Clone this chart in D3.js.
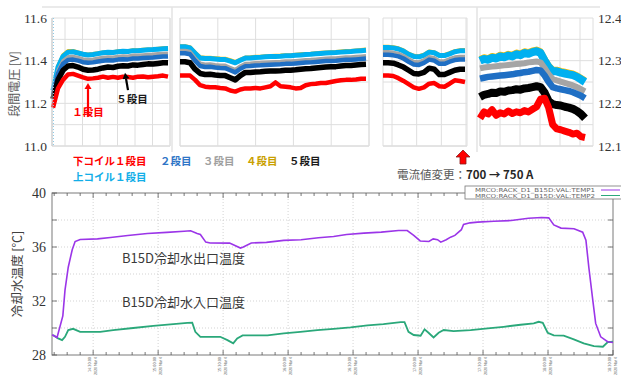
<!DOCTYPE html>
<html>
<head>
<meta charset="utf-8">
<script src="https://cdn.jsdelivr.net/npm/d3@7"></script>
<style>
  html, body { margin: 0; padding: 0; background: #fff; }
  svg { display: block; }
</style>
</head>
<body>
<svg id="chart" width="621" height="377"></svg>
<script>
// ===== Stage voltages (four recording segments, sampled at even intervals) =====
const voltTicksLeft  = [11.0, 11.2, 11.4, 11.6];
const voltTicksRight = [12.1, 12.2, 12.3, 12.4];

// lower coil stage 1
const lowerStage1 = [
  [11.18, 11.27, 11.31, 11.335, 11.338, 11.33, 11.322, 11.315, 11.317, 11.32, 11.325, 11.32, 11.324, 11.32, 11.325, 11.323, 11.32, 11.325, 11.326, 11.322, 11.325, 11.327, 11.33, 11.325],
  [11.33, 11.33, 11.33, 11.31, 11.285, 11.278, 11.275, 11.275, 11.272, 11.27, 11.26, 11.255, 11.265, 11.27, 11.27, 11.272, 11.27, 11.275, 11.28, 11.298, 11.28, 11.278, 11.275, 11.27, 11.272, 11.285, 11.29, 11.292, 11.295, 11.295, 11.3, 11.305, 11.308, 11.31, 11.31, 11.312, 11.315, 11.315],
  [11.33, 11.33, 11.328, 11.318, 11.305, 11.29, 11.275, 11.268, 11.275, 11.292, 11.295, 11.28, 11.278, 11.292, 11.308, 11.305, 11.3],
  [12.165, 12.18, 12.175, 12.185, 12.172, 12.178, 12.175, 12.182, 12.176, 12.18, 12.178, 12.183, 12.18, 12.186, 12.192, 12.21, 12.212, 12.19, 12.15, 12.14, 12.138, 12.135, 12.132, 12.128, 12.13, 12.122, 12.12]
];
// stage 2
const stage2 = [
  [11.24, 11.34, 11.385, 11.403, 11.405, 11.4, 11.393, 11.39, 11.392, 11.396, 11.4, 11.402, 11.401, 11.405, 11.407, 11.406, 11.41, 11.41, 11.412, 11.414, 11.415, 11.417, 11.419, 11.42],
  [11.435, 11.435, 11.43, 11.4, 11.375, 11.37, 11.371, 11.368, 11.366, 11.365, 11.355, 11.345, 11.362, 11.374, 11.375, 11.377, 11.378, 11.38, 11.381, 11.382, 11.383, 11.385, 11.385, 11.387, 11.389, 11.391, 11.392, 11.394, 11.396, 11.398, 11.399, 11.4, 11.402, 11.404, 11.404, 11.406, 11.408, 11.41],
  [11.428, 11.428, 11.425, 11.42, 11.41, 11.395, 11.382, 11.38, 11.39, 11.405, 11.4, 11.385, 11.385, 11.395, 11.403, 11.405, 11.405],
  [12.258, 12.26, 12.262, 12.263, 12.264, 12.265, 12.266, 12.267, 12.268, 12.27, 12.271, 12.273, 12.274, 12.276, 12.278, 12.277, 12.265, 12.25, 12.238, 12.235, 12.233, 12.231, 12.229, 12.226, 12.222, 12.218, 12.212]
];
// stage 3
const stage3 = [
  [11.25, 11.355, 11.4, 11.418, 11.42, 11.415, 11.408, 11.405, 11.407, 11.411, 11.415, 11.417, 11.416, 11.42, 11.422, 11.421, 11.425, 11.425, 11.427, 11.429, 11.43, 11.432, 11.434, 11.435],
  [11.448, 11.448, 11.443, 11.413, 11.388, 11.383, 11.384, 11.381, 11.379, 11.378, 11.368, 11.358, 11.375, 11.387, 11.388, 11.39, 11.391, 11.393, 11.394, 11.395, 11.396, 11.398, 11.398, 11.4, 11.402, 11.404, 11.405, 11.407, 11.409, 11.411, 11.412, 11.413, 11.415, 11.417, 11.417, 11.419, 11.421, 11.423],
  [11.442, 11.442, 11.439, 11.434, 11.424, 11.409, 11.396, 11.394, 11.404, 11.419, 11.414, 11.399, 11.399, 11.409, 11.417, 11.419, 11.419],
  [12.282, 12.284, 12.285, 12.286, 12.287, 12.288, 12.289, 12.29, 12.291, 12.292, 12.293, 12.294, 12.296, 12.297, 12.298, 12.296, 12.283, 12.268, 12.257, 12.254, 12.251, 12.248, 12.245, 12.242, 12.238, 12.233, 12.228]
];
// stage 4
const stage4 = [
  [11.262, 11.375, 11.427, 11.446, 11.447, 11.44, 11.433, 11.43, 11.432, 11.436, 11.44, 11.442, 11.441, 11.445, 11.447, 11.446, 11.45, 11.45, 11.452, 11.454, 11.455, 11.457, 11.459, 11.461],
  [11.469, 11.469, 11.464, 11.44, 11.417, 11.415, 11.415, 11.413, 11.411, 11.41, 11.403, 11.395, 11.406, 11.416, 11.417, 11.419, 11.42, 11.422, 11.423, 11.424, 11.425, 11.427, 11.427, 11.429, 11.431, 11.433, 11.434, 11.436, 11.438, 11.44, 11.441, 11.442, 11.444, 11.446, 11.447, 11.449, 11.451, 11.453],
  [11.466, 11.466, 11.464, 11.459, 11.449, 11.434, 11.424, 11.422, 11.429, 11.444, 11.441, 11.428, 11.428, 11.436, 11.446, 11.45, 11.451],
  [12.304, 12.308, 12.306, 12.311, 12.309, 12.314, 12.312, 12.316, 12.314, 12.319, 12.317, 12.322, 12.32, 12.324, 12.326, 12.322, 12.304, 12.289, 12.279, 12.279, 12.276, 12.274, 12.272, 12.27, 12.266, 12.26, 12.254]
];
// stage 5
const stage5 = [
  [11.22, 11.31, 11.355, 11.375, 11.377, 11.37, 11.36, 11.355, 11.356, 11.36, 11.366, 11.37, 11.368, 11.374, 11.376, 11.375, 11.38, 11.379, 11.382, 11.385, 11.384, 11.387, 11.39, 11.39],
  [11.395, 11.395, 11.39, 11.36, 11.34, 11.335, 11.336, 11.333, 11.331, 11.33, 11.32, 11.31, 11.33, 11.345, 11.345, 11.347, 11.348, 11.35, 11.351, 11.352, 11.353, 11.355, 11.355, 11.357, 11.36, 11.362, 11.363, 11.366, 11.368, 11.37, 11.371, 11.372, 11.375, 11.377, 11.377, 11.38, 11.382, 11.383],
  [11.39, 11.39, 11.388, 11.38, 11.37, 11.355, 11.34, 11.338, 11.345, 11.365, 11.36, 11.335, 11.335, 11.345, 11.355, 11.36, 11.36],
  [12.215, 12.22, 12.222, 12.225, 12.224, 12.228, 12.227, 12.23, 12.231, 12.233, 12.232, 12.235, 12.236, 12.238, 12.24, 12.238, 12.225, 12.205, 12.198, 12.196, 12.195, 12.192, 12.19, 12.187, 12.182, 12.175, 12.165]
];
// upper coil stage 1
const upperStage1 = [
  [11.26, 11.37, 11.42, 11.44, 11.442, 11.436, 11.43, 11.427, 11.429, 11.433, 11.437, 11.439, 11.438, 11.442, 11.444, 11.443, 11.447, 11.447, 11.449, 11.451, 11.452, 11.454, 11.456, 11.457],
  [11.465, 11.465, 11.46, 11.435, 11.412, 11.41, 11.41, 11.408, 11.406, 11.405, 11.398, 11.39, 11.402, 11.412, 11.413, 11.415, 11.416, 11.418, 11.419, 11.42, 11.421, 11.423, 11.423, 11.425, 11.427, 11.429, 11.43, 11.432, 11.434, 11.436, 11.437, 11.438, 11.44, 11.442, 11.443, 11.445, 11.447, 11.449],
  [11.462, 11.462, 11.46, 11.455, 11.445, 11.43, 11.42, 11.418, 11.425, 11.44, 11.437, 11.424, 11.424, 11.432, 11.442, 11.446, 11.447],
  [12.3, 12.304, 12.302, 12.307, 12.305, 12.31, 12.308, 12.312, 12.31, 12.315, 12.313, 12.318, 12.316, 12.32, 12.322, 12.318, 12.3, 12.285, 12.275, 12.275, 12.272, 12.27, 12.268, 12.266, 12.262, 12.256, 12.25]
];

// ===== Cooling water temperatures =====
const tempTicks = [28, 32, 36, 40];
const tickDate = "2020 Mar 4";
const outletTimes = ["14:11:00","14:13:20","14:16:00","14:17:00","14:18:30","14:20:20","14:21:40","14:24:00","14:32:00","14:38:00","14:46:00","14:55:00","15:04:00","15:12:00","15:15:00","15:18:00","15:19:30","15:22:00","15:24:00","15:33:00","15:38:00","15:39:20","15:43:00","15:50:00","15:58:00","16:06:00","16:14:00","16:21:00","16:27:00","16:35:00","16:43:00","16:51:00","16:55:00","16:58:00","17:01:00","17:05:00","17:07:00","17:09:00","17:10:30","17:13:00","17:15:00","17:17:00","17:20:00","17:21:00","17:24:00","17:27:30","17:35:00","17:43:00","17:51:00","17:57:00","18:00:20","18:02:40","18:06:00","18:12:00","18:16:00","18:17:30","18:18:50","18:20:40","18:22:00","18:24:20","18:27:30","18:30:00"];
const outletTemp = [29.5, 29.3, 30.9, 32.8, 34.5, 35.8, 36.4, 36.55, 36.6, 36.7, 36.85, 37.0, 37.08, 37.17, 37.2, 37.0, 36.93, 36.36, 36.3, 36.29, 35.92, 36.0, 36.3, 36.34, 36.49, 36.54, 36.69, 36.78, 36.93, 37.03, 37.1, 37.22, 37.22, 36.86, 36.45, 36.41, 36.6, 36.54, 36.36, 36.54, 36.73, 36.86, 37.28, 37.67, 37.79, 37.84, 37.91, 37.96, 38.13, 38.18, 38.16, 37.64, 37.4, 37.35, 37.1, 36.5, 34.5, 32.06, 30.34, 29.35, 28.98, 28.93];
const inletTimes = ["14:11:30","14:13:50","14:15:40","14:17:00","14:18:30","14:20:45","14:24:00","14:33:15","14:39:15","14:48:30","14:57:45","15:07:00","15:13:30","15:15:45","15:17:10","15:19:30","15:28:40","15:32:00","15:34:40","15:36:30","15:39:00","15:50:30","15:58:00","16:05:40","16:13:30","16:21:00","16:28:50","16:36:40","16:44:00","16:52:00","16:53:45","16:55:35","16:58:00","17:01:10","17:03:00","17:04:50","17:07:10","17:09:30","17:11:50","17:16:25","17:24:15","17:32:10","17:39:30","17:47:20","17:53:25","17:55:40","17:57:35","17:59:50","18:02:40","18:07:15","18:11:55","18:16:30","18:21:10","18:25:20","18:27:35","18:30:00"];
const inletTemp = [29.48, 29.23, 29.1, 29.35, 29.85, 29.94, 29.72, 29.72, 29.85, 30.0, 30.16, 30.29, 30.38, 30.4, 29.72, 29.35, 29.35, 29.1, 28.86, 29.23, 29.45, 29.45, 29.6, 29.72, 29.85, 29.94, 30.04, 30.19, 30.29, 30.44, 30.44, 29.72, 29.48, 29.43, 29.9, 29.65, 29.3, 29.65, 29.85, 29.77, 29.85, 29.97, 30.09, 30.24, 30.34, 30.46, 30.38, 29.65, 29.45, 29.43, 29.16, 28.86, 28.66, 28.61, 28.96, 28.98];

// ===== drawing =====
const svg = d3.select("#chart");
const JP = "'Noto Sans CJK JP', 'Noto Sans', sans-serif";
const SERIF = "'Liberation Serif', 'DejaVu Serif', serif";

const TOP = 18, BOT = 146;
const yL = d3.scaleLinear().domain([11.0, 11.6]).range([BOT, TOP]);
const yR = d3.scaleLinear().domain([12.1, 12.4]).range([BOT, TOP]);

// chart-area outlines
const frame = svg.append("g").attr("stroke", "#e3e3e3").attr("stroke-width", 1.5).attr("fill", "none");
frame.append("line").attr("x1", 42).attr("x2", 600).attr("y1", 7).attr("y2", 7);
frame.append("line").attr("x1", 172).attr("x2", 172).attr("y1", 7).attr("y2", 152);
frame.append("line").attr("x1", 477).attr("x2", 477).attr("y1", 7).attr("y2", 152);

const panels = [
  { x0: 52,  x1: 170, d0: 53,  d1: 168, g0: 65,  g1: 170, gn: 6, y: yL, wide: false },
  { x0: 180, x1: 369, d0: 180, d1: 366, g0: 180, g1: 369, gn: 5, y: yL, wide: false },
  { x0: 383, x1: 467, d0: 383, d1: 465, g0: 392, g1: 466, gn: 3, y: yL, wide: false },
  { x0: 480, x1: 593, d0: 480, d1: 585, g0: 480, g1: 580, gn: 5, y: yR, wide: true }
];

const series = [
  { data: stage4,      color: "#ffc000", w: 3.5, w4: 6 },
  { data: upperStage1, color: "#00b0f0", w: 5,   w4: 8 },
  { data: stage3,      color: "#a5a5a5", w: 3.5, w4: 6 },
  { data: stage2,      color: "#1f6fc4", w: 4.5, w4: 6.5 },
  { data: stage5,      color: "#000000", w: 5.5, w4: 8 },
  { data: lowerStage1, color: "#ff0000", w: 4.5, w4: 7 }
];

const hGrid = d3.range(11.0, 11.6001, 0.1);

panels.forEach((p, pi) => {
  const g = svg.append("g");
  // horizontal grid
  g.selectAll(".hg").data(hGrid).join("line")
    .attr("x1", p.x0).attr("x2", p.x1)
    .attr("y1", d => yL(d)).attr("y2", d => yL(d))
    .attr("stroke", d => Math.abs(d - 11.0) < 1e-6 ? "#c8c8c8" : "#dedede").attr("stroke-width", 1);
  // vertical grid
  const gx = d3.scaleLinear().domain([0, p.gn]).range([p.g0, p.g1]);
  const vlines = d3.range(p.gn + 1).map(gx).concat([p.x0, p.x1]);
  g.selectAll(".vg").data(vlines).join("line")
    .attr("x1", d => d).attr("x2", d => d)
    .attr("y1", TOP).attr("y2", BOT)
    .attr("stroke", "#dedede").attr("stroke-width", 1);

  series.forEach(s => {
    const vals = s.data[pi];
    const x = d3.scaleLinear().domain([0, vals.length - 1]).range([p.d0, p.d1]);
    const line = d3.line().x((d, i) => x(i)).y(d => p.y(d)).curve(d3.curveLinear);
    g.append("path").datum(vals)
      .attr("d", line)
      .attr("fill", "none")
      .attr("stroke", s.color)
      .attr("stroke-width", p.wide ? s.w4 : s.w)
      .attr("stroke-linejoin", "round")
      .attr("stroke-linecap", "butt");
  });
});

// left axis line of first segment and its start-up trace
svg.append("line").attr("x1", 52).attr("x2", 52).attr("y1", TOP).attr("y2", BOT)
  .attr("stroke", "#c8c8c8");
svg.append("line").attr("x1", 53.5).attr("x2", 53.5).attr("y1", yL(11.6)).attr("y2", yL(11.0))
  .attr("stroke", "#8fcbe6").attr("stroke-width", 1).attr("stroke-dasharray", "1,2");

// voltage tick labels
svg.append("g").selectAll("text").data(voltTicksLeft).join("text")
  .attr("x", 47).attr("y", d => yL(d) + 4.5)
  .attr("text-anchor", "end")
  .attr("font-family", SERIF).attr("font-size", 13.5).attr("fill", "#333")
  .text(d => d.toFixed(1));
svg.append("g").selectAll("text").data(voltTicksRight).join("text")
  .attr("x", 598).attr("y", d => yR(d) + 4.5)
  .attr("font-family", SERIF).attr("font-size", 13.5).attr("fill", "#333")
  .text(d => d.toFixed(1));

svg.append("text")
  .attr("transform", `translate(19, ${(TOP + BOT) / 2 + 2}) rotate(-90)`)
  .attr("text-anchor", "middle")
  .attr("font-family", JP).attr("font-size", 12).attr("fill", "#595959")
  .text("段間電圧 [V]");

// annotations inside the first segment
function arrow(x1, y1, x2, y2, color) {
  const a = Math.atan2(y2 - y1, x2 - x1);
  const hl = 6, hw = 3.5;
  const bx = x2 - hl * Math.cos(a), by = y2 - hl * Math.sin(a);
  svg.append("line").attr("x1", x1).attr("y1", y1).attr("x2", bx).attr("y2", by)
    .attr("stroke", color).attr("stroke-width", 2.2);
  svg.append("path")
    .attr("d", `M${x2},${y2} L${bx - hw * Math.sin(a)},${by + hw * Math.cos(a)} L${bx + hw * Math.sin(a)},${by - hw * Math.cos(a)} Z`)
    .attr("fill", color);
}
const ann1X = d3.scaleLinear().domain([0, lowerStage1[0].length - 1]).range([panels[0].d0, panels[0].d1]);
arrow(ann1X(7), yL(11.138), ann1X(7), yL(11.295), "#ff0000");
arrow(ann1X(15), yL(11.262), ann1X(14.4), yL(11.343), "#000000");
svg.append("text").attr("x", ann1X(7)).attr("y", yL(11.16) + 4)
  .attr("text-anchor", "middle").attr("font-family", JP).attr("font-size", 10.5)
  .attr("font-weight", 700).attr("fill", "#ff0000").text("１段目");
svg.append("text").attr("x", ann1X(15.8)).attr("y", yL(11.22) + 4)
  .attr("text-anchor", "middle").attr("font-family", JP).attr("font-size", 10.5)
  .attr("font-weight", 700).attr("fill", "#1a1a1a").text("５段目");

// legend of the stage traces
const legendItems = [
  { name: "下コイル１段目", color: "#ff0000", x: 73,  y: 165 },
  { name: "２段目",         color: "#2e75c6", x: 160, y: 165 },
  { name: "３段目",         color: "#a0a0a0", x: 203, y: 165 },
  { name: "４段目",         color: "#c9a000", x: 246, y: 165 },
  { name: "５段目",         color: "#1a1a1a", x: 289, y: 165 },
  { name: "上コイル１段目", color: "#12aee8", x: 73,  y: 181 }
];
svg.append("g").selectAll("text").data(legendItems).join("text")
  .attr("x", d => d.x).attr("y", d => d.y)
  .attr("font-family", JP).attr("font-size", 10.5).attr("font-weight", 700)
  .attr("fill", d => d.color).text(d => d.name);

// current-change marker below the third segment
const mx = panels[2].x1 - 4;
svg.append("path")
  .attr("d", `M${mx},150 L${mx + 7},157 L${mx + 3},157 L${mx + 3},164 L${mx - 3},164 L${mx - 3},157 L${mx - 7},157 Z`)
  .attr("fill", "#ff0000").attr("stroke", "#8b1a1a").attr("stroke-width", 0.8);
const note = svg.append("text").attr("x", 397).attr("y", 179)
  .attr("font-family", JP).attr("font-size", 11.5);
note.append("tspan").attr("fill", "#595959").text("電流値変更：");
note.append("tspan").attr("fill", "#262626").attr("font-weight", 600).text("700 → 750 A");

// ===== temperature chart =====
const tParse = d3.timeParse("%H:%M:%S");
const TX0 = 52, TX1 = 613, TY0 = 193, TY1 = 355;
const xT = d3.scaleTime().domain([tParse("14:11:00"), tParse("18:30:00")]).range([TX0, TX1]);
const yT = d3.scaleLinear().domain([28, 40]).range([TY1, TY0]);

const tg = svg.append("g");
const major = xT.ticks(d3.timeMinute.every(30));
const minor = xT.ticks(d3.timeMinute.every(6));
const yMajor = yT.ticks(6);

// dotted grid
tg.selectAll(".vgt").data(major.filter(d => xT(d) < TX1 - 1)).join("line")
  .attr("x1", d => xT(d)).attr("x2", d => xT(d)).attr("y1", TY0).attr("y2", TY1)
  .attr("stroke", "#c8c8c8").attr("stroke-width", 0.8).attr("stroke-dasharray", "1,2");
tg.selectAll(".hgt").data(yMajor.filter(d => d > 28 && d < 40)).join("line")
  .attr("x1", TX0).attr("x2", TX1).attr("y1", d => yT(d)).attr("y2", d => yT(d))
  .attr("stroke", "#c8c8c8").attr("stroke-width", 0.8).attr("stroke-dasharray", "1,2");

// frame
tg.append("rect").attr("x", TX0).attr("y", TY0).attr("width", TX1 - TX0).attr("height", TY1 - TY0)
  .attr("fill", "none").attr("stroke", "#7a7a7a").attr("stroke-width", 1);

// ticks
tg.selectAll(".tb").data(minor).join("line")
  .attr("x1", d => xT(d)).attr("x2", d => xT(d))
  .attr("y1", TY1).attr("y2", d => TY1 - (d.getMinutes() % 30 === 0 ? 5 : 3))
  .attr("stroke", "#555").attr("stroke-width", 0.8);
tg.selectAll(".tt").data(minor).join("line")
  .attr("x1", d => xT(d)).attr("x2", d => xT(d))
  .attr("y1", TY0).attr("y2", d => TY0 + (d.getMinutes() % 30 === 0 ? 5 : 3))
  .attr("stroke", "#555").attr("stroke-width", 0.8);
tg.selectAll(".tl").data(yMajor).join("line")
  .attr("x1", TX0).attr("x2", TX0 + 5).attr("y1", d => yT(d)).attr("y2", d => yT(d))
  .attr("stroke", "#555").attr("stroke-width", 0.8);
tg.selectAll(".tr").data(yMajor).join("line")
  .attr("x1", TX1).attr("x2", TX1 - 5).attr("y1", d => yT(d)).attr("y2", d => yT(d))
  .attr("stroke", "#555").attr("stroke-width", 0.8);

// y labels
tg.selectAll(".yl").data(tempTicks).join("text")
  .attr("x", 46).attr("y", d => yT(d) + 5)
  .attr("text-anchor", "end").attr("font-family", SERIF).attr("font-size", 14).attr("fill", "#333")
  .text(d => d);

// rotated time labels (two lines: clock time, then date)
const fmt = d3.timeFormat("%H:%M:%S");
const xl = tg.selectAll(".xl").data(major).join("text")
  .attr("transform", d => `translate(${xT(d) - 2}, 357) rotate(-90)`)
  .attr("text-anchor", "end").attr("font-family", "'DejaVu Sans', sans-serif")
  .attr("font-size", 4.2).attr("fill", "#666");
xl.append("tspan").attr("x", 0).attr("dy", 0)
  .attr("textLength", 15).attr("lengthAdjust", "spacingAndGlyphs").text(d => fmt(d));
xl.append("tspan").attr("x", 0).attr("dy", 5.5)
  .attr("textLength", 18).attr("lengthAdjust", "spacingAndGlyphs").text(tickDate);

svg.append("text")
  .attr("transform", `translate(22, ${(TY0 + TY1) / 2}) rotate(-90)`)
  .attr("text-anchor", "middle").attr("font-family", JP).attr("font-size", 12.5).attr("fill", "#404040")
  .text("冷却水温度 [℃]");

// temperature lines
const outlet = outletTimes.map((t, i) => ({ t: tParse(t), v: outletTemp[i] }));
const inlet = inletTimes.map((t, i) => ({ t: tParse(t), v: inletTemp[i] }));
const tLine = d3.line().x(d => xT(d.t)).y(d => yT(d.v));
tg.append("path").datum(inlet).attr("d", tLine).attr("fill", "none")
  .attr("stroke", "#2aa87a").attr("stroke-width", 1.8);
tg.append("path").datum(outlet).attr("d", tLine).attr("fill", "none")
  .attr("stroke", "#9b35e8").attr("stroke-width", 1.6);

// line captions
tg.append("text").attr("x", 122).attr("y", yT(35.2) + 5)
  .attr("font-family", JP).attr("font-size", 13).attr("fill", "#3a3a3a")
  .text("B15D冷却水出口温度");
tg.append("text").attr("x", 122).attr("y", yT(31.9) + 5)
  .attr("font-family", JP).attr("font-size", 13).attr("fill", "#3a3a3a")
  .text("B15D冷却水入口温度");

// legend box
const lg = svg.append("g");
lg.append("rect").attr("x", 465).attr("y", 186).attr("width", 160).attr("height", 13)
  .attr("fill", "#fff").attr("stroke", "#777").attr("stroke-width", 0.8);
const legendRows = [
  { name: "MRCO:RACK_D1_B15D:VAL:TEMP1", color: "#9b35e8", y: 190 },
  { name: "MRCO:RACK_D1_B15D:VAL:TEMP2", color: "#2aa87a", y: 195.5 }
];
lg.selectAll("text").data(legendRows).join("text")
  .attr("x", 475).attr("y", d => d.y + 2)
  .attr("font-family", "'DejaVu Sans', sans-serif").attr("font-size", 5.5).attr("fill", "#666")
  .attr("textLength", 120).attr("lengthAdjust", "spacingAndGlyphs")
  .text(d => d.name);
lg.selectAll("line").data(legendRows).join("line")
  .attr("x1", 601).attr("x2", 620).attr("y1", d => d.y).attr("y2", d => d.y)
  .attr("stroke", d => d.color).attr("stroke-width", 1);
</script>
</body>
</html>
